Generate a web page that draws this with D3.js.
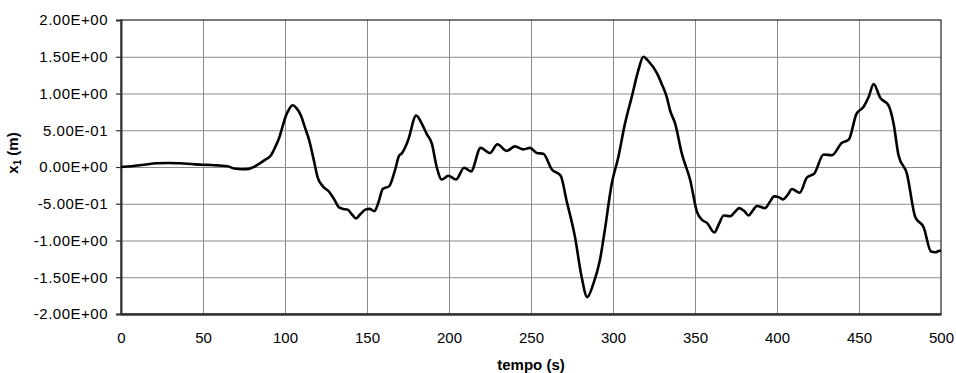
<!DOCTYPE html>
<html><head><meta charset="utf-8">
<script src="https://cdn.jsdelivr.net/npm/d3@7"></script>
<style>body{margin:0;background:#fff}</style>
</head><body><svg id="c" width="956" height="373"></svg>
<script>
const time = [0,6.5,14,21.7,29,36,43,50,55,60,65,69,74,78,81,84,88,91.5,94,96.5,98.5,100.6,102.6,104.6,107,109.7,112,114.8,117.5,119.9,123,127,130,133,135.5,138.2,141,143.3,146,149,151.5,154.5,157,159.6,163.6,167,169.7,171,175,180,183.4,186.4,189.5,192.5,195.6,199.6,204.3,209.2,213.4,219.3,225,229.5,235.2,240.2,245.3,249.4,253.5,257.5,262.6,268.1,271.7,276.8,280.9,284.3,288,292,295,299.2,303.2,307.3,311.4,315.4,318.5,321.6,326.7,329.7,332.8,334.8,337.9,342,347.1,351.2,354.3,357.3,361.8,364.5,367.5,371.5,374,377,380,382.7,385,387.8,392.8,395.5,398.3,401,403.6,406.5,409.1,413.8,418.3,422.7,428.4,433.5,439.6,443.7,448.4,452.8,456,458.9,463,468,471.1,474.1,479.2,484.3,489.4,493.9,496.5,499.2,500];
const x1 = [0,0.01,0.03,0.05,0.055,0.05,0.04,0.03,0.028,0.02,0.01,-0.02,-0.03,-0.025,0.0,0.04,0.1,0.16,0.27,0.4,0.55,0.7,0.79,0.84,0.8,0.7,0.55,0.36,0.1,-0.14,-0.26,-0.34,-0.44,-0.55,-0.57,-0.58,-0.65,-0.70,-0.64,-0.58,-0.57,-0.6,-0.48,-0.30,-0.26,-0.05,0.16,0.18,0.36,0.70,0.59,0.45,0.32,0.0,-0.17,-0.12,-0.17,-0.01,-0.06,0.26,0.19,0.31,0.22,0.28,0.24,0.26,0.19,0.18,-0.03,-0.12,-0.46,-0.95,-1.5,-1.77,-1.59,-1.27,-0.86,-0.23,0.13,0.59,0.95,1.31,1.50,1.44,1.28,1.13,0.95,0.77,0.59,0.18,-0.18,-0.61,-0.72,-0.76,-0.89,-0.78,-0.66,-0.67,-0.62,-0.56,-0.6,-0.66,-0.6,-0.53,-0.56,-0.48,-0.40,-0.41,-0.44,-0.38,-0.30,-0.35,-0.14,-0.09,0.17,0.16,0.33,0.37,0.72,0.82,0.96,1.13,0.94,0.84,0.59,0.16,-0.09,-0.68,-0.82,-1.15,-1.16,-1.14,-1.14];
const xTicks = [0,50,100,150,200,250,300,350,400,450,500];
const yTicks = [-2,-1.5,-1,-0.5,0,0.5,1,1.5,2];

const svg = d3.select("#c");
const L=121, R=941, T=20, B=314;
const x = d3.scaleLinear().domain([0,500]).range([L,R]);
const y = d3.scaleLinear().domain([-2,2]).range([B,T]);
const fmt = v => { if (v===0) return "0.00E+00"; const e=Math.floor(Math.log10(Math.abs(v))); const m=v/Math.pow(10,e); return m.toFixed(2)+"E"+(e<0?"-":"+")+String(Math.abs(e)).padStart(2,"0"); };
const font = "'Liberation Sans', Arial, sans-serif";

// grid
svg.append("g").selectAll("line").data(yTicks.slice(1,-1)).join("line")
  .attr("x1",L).attr("x2",R).attr("y1",d=>y(d)+0.5).attr("y2",d=>y(d)+0.5)
  .attr("stroke","#8a8a8a").attr("stroke-width",1);
svg.append("g").selectAll("line").data(xTicks.slice(1,-1)).join("line")
  .attr("y1",T).attr("y2",B).attr("x1",d=>Math.round(x(d))+0.5).attr("x2",d=>Math.round(x(d))+0.5)
  .attr("stroke","#8a8a8a").attr("stroke-width",1);

// border
svg.append("rect").attr("x",L).attr("y",T).attr("width",R-L).attr("height",B-T)
  .attr("fill","none").attr("stroke","#222").attr("stroke-width",1.2);

// y axis
const ya = d3.axisLeft(y).tickValues(yTicks).tickFormat(fmt).tickSize(5).tickPadding(8);
const gy = svg.append("g").attr("transform",`translate(${L},0)`).call(ya);
gy.select(".domain").attr("stroke","#333").attr("stroke-width",2);
gy.selectAll(".tick line").attr("stroke","#333").attr("stroke-width",1.2);
gy.selectAll("text").attr("font-family",font).attr("font-size",15).attr("letter-spacing",0.5).attr("fill","#000");

// x axis
const xa = d3.axisBottom(x).tickValues(xTicks).tickFormat(d3.format("d")).tickSize(0).tickPadding(18);
const gx = svg.append("g").attr("transform",`translate(0,${B})`).call(xa);
gx.select(".domain").attr("stroke","#333").attr("stroke-width",2.4);
gx.selectAll("text").attr("font-family",font).attr("font-size",15).attr("fill","#000");

// line
svg.append("path").datum(time.map((t,i)=>[t,x1[i]]))
  .attr("d",d3.line().x(d=>x(d[0])).y(d=>y(d[1])).curve(d3.curveMonotoneX))
  .attr("fill","none").attr("stroke","#000").attr("stroke-width",2.6).attr("stroke-linejoin","round");

// titles
svg.append("text").attr("x",(L+R)/2).attr("y",370).attr("text-anchor","middle")
  .attr("font-family",font).attr("font-size",15).attr("font-weight","bold").text("tempo (s)");
const yt = svg.append("text").attr("transform","translate(18,153) rotate(-90)").attr("text-anchor","middle")
  .attr("font-family",font).attr("font-size",15).attr("font-weight","bold");
yt.append("tspan").text("x");
yt.append("tspan").attr("font-size",10).attr("dy",3).text("1");
yt.append("tspan").attr("dy",-3).text(" (m)");
</script></body></html>
